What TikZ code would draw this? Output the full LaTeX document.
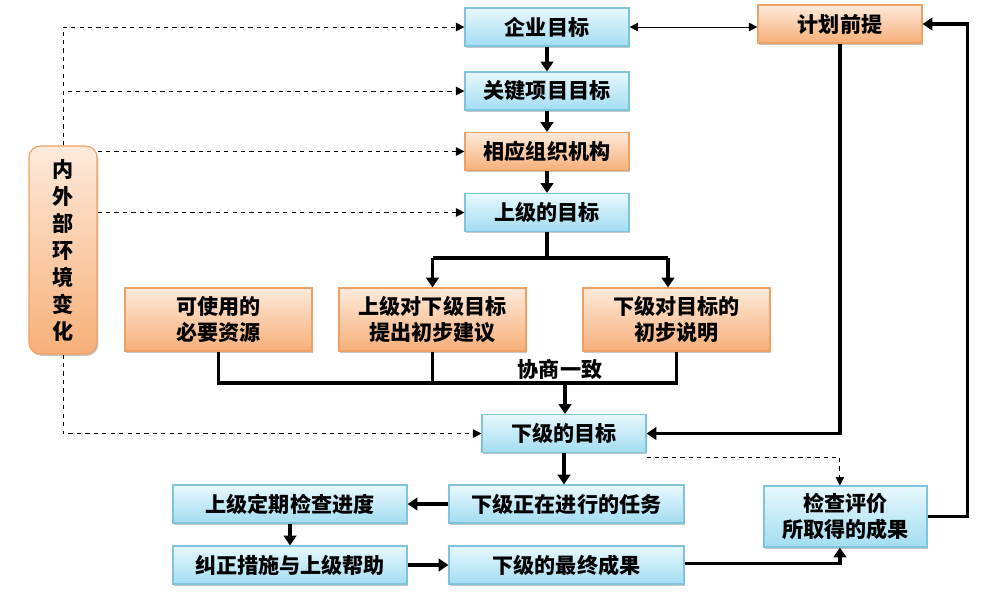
\documentclass[tikz,border=0pt]{standalone}
\usepackage{fontspec}
\usepackage{tikz}
\usetikzlibrary{arrows.meta,shadows}
\newfontfamily\cjk{Noto Sans CJK SC}

\definecolor{lantop}{HTML}{E8F8FD}
\definecolor{lanbot}{HTML}{A2DDF1}
\definecolor{lanline}{HTML}{7FC4DA}
\definecolor{chengtop}{HTML}{FDEADB}
\definecolor{chengbot}{HTML}{F7AF78}
\definecolor{chengline}{HTML}{EEA164}

\tikzset{
  kuang/.style={draw, line width=0.8pt, align=center,
    font=\cjk\bfseries\fontsize{15}{18}\selectfont, inner sep=0pt,
    drop shadow={shadow xshift=0.9pt, shadow yshift=-1.3pt, fill=black, opacity=0.22}},
  lan/.style={kuang, draw=lanline, top color=lantop, bottom color=lanbot},
  cheng/.style={kuang, draw=chengline, top color=chengtop, bottom color=chengbot},
  cu/.style={line width=2.3pt},
  cujian/.style={cu, -{Triangle[width=9pt,length=7pt]}},
  xu/.style={dashed, line width=0.7pt, -{Triangle[width=6pt,length=6pt]}},
}

\begin{document}
\begin{tikzpicture}[x=0.025cm, y=-0.025cm]
        \useasboundingbox (0, 0) rectangle (988, 595);

        % top column
        \node[lan, minimum width=4.1cm, minimum height=0.95cm] (qiye) at (547, 27) {企业目标};
        \node[lan, minimum width=4.1cm, minimum height=0.95cm] (guanjian) at (547, 91) {关键项目目标};
        \node[cheng, minimum width=4.1cm, minimum height=0.95cm] (jigou) at (547, 151.5) {相应组织机构};
        \node[lan, minimum width=4.1cm, minimum height=0.95cm] (shangji) at (547, 212.5) {上级的目标};
        \node[cheng, minimum width=4.1cm, minimum height=0.95cm] (qianti) at (840, 24) {计划前提};

        \node[cheng, rounded corners=8pt, minimum width=1.7cm, minimum height=5.2cm,
              font=\cjk\bfseries\fontsize{15}{19.2}\selectfont] (huanjing) at (63, 250)
              {内\\外\\部\\环\\境\\变\\化};

        % middle row
        \node[cheng, minimum width=4.675cm, minimum height=1.575cm] (ziyuan) at (218.5, 319.5) {可使用的\\必要资源};
        \node[cheng, minimum width=4.675cm, minimum height=1.575cm] (jianyi) at (432.5, 319.5) {上级对下级目标\\提出初步建议};
        \node[cheng, minimum width=4.675cm, minimum height=1.575cm] (shuoming) at (676.5, 319.5) {下级对目标的\\初步说明};
        \node[font=\cjk\bfseries\fontsize{15}{18}\selectfont, inner sep=0pt] (xieshang) at (560, 369) {协商一致};

        \node[lan, minimum width=4.1cm, minimum height=0.95cm] (xiaoji) at (564, 433.5) {下级的目标};

        % bottom rows
        \node[lan, minimum width=5.85cm, minimum height=0.95cm] (jiancha) at (290, 504) {上级定期检查进度};
        \node[lan, minimum width=5.85cm, minimum height=0.95cm] (jiuzheng) at (290, 565) {纠正措施与上级帮助};
        \node[lan, minimum width=5.875cm, minimum height=0.95cm] (renwu) at (566.5, 504) {下级正在进行的任务};
        \node[lan, minimum width=5.875cm, minimum height=0.95cm] (chengguo) at (566.5, 565) {下级的最终成果};
        \node[lan, minimum width=4.075cm, minimum height=1.525cm] (pingjia) at (845.5, 516.5) {检查评价\\所取得的成果};

        % dashed influences
        \draw[xu] (huanjing.north) |- (qiye.west);
        \draw[xu] (huanjing.north) |- (guanjian.west);
        \draw[xu] (huanjing.east |- jigou.west) -- (jigou.west);
        \draw[xu] (huanjing.east |- shangji.west) -- (shangji.west);
        \draw[xu] (huanjing.south) |- (xiaoji.west);
        \draw[xu] ([yshift=-3pt]xiaoji.south east) -| ([xshift=-0.14cm]pingjia.north);

        \draw[line width=0.7pt, {Triangle[width=6pt,length=6pt]}-{Triangle[width=6pt,length=6pt]}]
              (qiye.east) -- (qiye.east -| qianti.west);

        % main flow
        \draw[cujian] (qiye) -- (guanjian);
        \draw[cujian] (guanjian) -- (jigou);
        \draw[cujian] (jigou) -- (shangji);

        \coordinate (fen) at (547, 258);
        \coordinate (fenR) at (668, 258);
        \draw[cu] (shangji.south) -- (fen);
        \draw[cu] (jianyi.north |- fen) -- (fenR);
        \draw[cujian] (jianyi.north |- fen) -- (jianyi.north);
        \draw[cujian] (fenR) -- (fenR |- shuoming.north);

        \coordinate (he) at (565, 383);
        \draw[cu] (ziyuan.south) |- (shuoming.south |- he) -- (shuoming.south);
        \draw[cu] (jianyi.south) -- (jianyi.south |- he);
        \draw[cujian] (he) -- (he |- xiaoji.north);

        \draw[cujian] (qianti.south) |- (xiaoji.east);

        \draw[cujian] (xiaoji.south) -- (xiaoji.south |- renwu.north);
        \draw[cujian] (renwu.west) -- (jiancha.east);
        \draw[cujian] (jiancha.south) -- (jiuzheng.north);
        \draw[cujian] (jiuzheng.east) -- (chengguo.west);
        \draw[cujian] ([yshift=1pt]chengguo.east) -| ([xshift=-0.14cm]pingjia.south);
        \draw[cujian] (pingjia.east) -| ([xshift=1.125cm]qianti.east) -- (qianti.east);
    \end{tikzpicture}
\end{document}
